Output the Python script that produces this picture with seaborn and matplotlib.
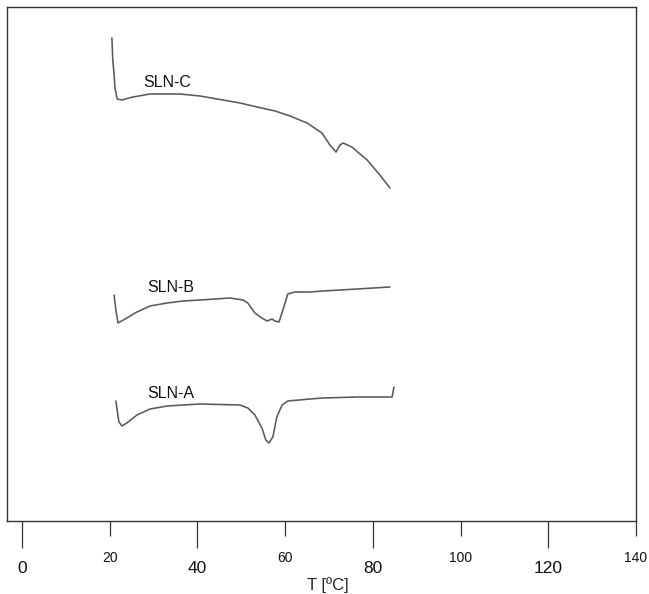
import pandas as pd
import matplotlib
matplotlib.use("Agg")
import matplotlib.pyplot as plt
import seaborn as sns

# DSC thermograms (heat flow, arbitrary units, curves offset vertically)
t_c = [20.5, 20.7, 21.0, 21.2, 21.7, 22.8, 25.3, 29.2, 33.1, 36.0, 40.6, 45.8,
       49.7, 53.6, 57.7, 61.1, 65.0, 68.4, 70.2, 71.6, 72.5, 73.2, 75.2, 78.7,
       81.6, 83.9]
hf_c = [483, 461, 446, 433, 422, 421, 424, 427, 427, 427, 425, 421,
        418, 414, 410, 405, 398, 388, 376, 369, 376, 378, 374, 361,
        346, 333]

t_b = [21.0, 21.4, 21.9, 23.9, 26.2, 29.2, 33.1, 36.7, 40.6, 47.4, 50.4, 51.5,
       53.1, 54.7, 55.9, 57.0, 57.7, 58.6, 59.7, 60.6, 62.2, 65.7, 68.6, 76.4,
       83.9]
hf_b = [226, 211, 198, 203, 209, 215, 218, 220, 221, 223, 221, 218,
        208, 203, 200, 202, 200, 199, 214, 227, 229, 229, 230, 232,
        234]

t_a = [21.4, 21.7, 22.1, 22.8, 23.9, 26.2, 29.2, 33.1, 36.7, 40.6, 49.7, 51.5,
       53.1, 54.7, 55.6, 56.3, 57.2, 58.1, 59.3, 60.6, 65.7, 68.6, 76.4, 84.4,
       84.8]
hf_a = [120, 111, 99, 95, 98, 106, 112, 115, 116, 117, 116, 113,
        106, 93, 81, 78, 84, 104, 116, 120, 122, 123, 124, 124,
        134]

samples = ["SLN-C", "SLN-B", "SLN-A"]
major_ticks = [0, 40, 80, 120]
minor_ticks = [20, 60, 100, 140]
x_label = "T [ºC]"

df = pd.concat(
    [pd.DataFrame({"T": t, "heat_flow": hf, "sample": name})
     for name, t, hf in zip(samples, [t_c, t_b, t_a], [hf_c, hf_b, hf_a])],
    ignore_index=True,
)

sns.set_style("white")
plt.rcParams["font.family"] = ["Liberation Sans", "DejaVu Sans"]

fig = plt.figure(figsize=(6.49, 5.94), dpi=100)
W, H = 649, 594
ax = fig.add_axes([7 / W, (H - 521) / H, (636 - 7) / W, (521 - 7) / H])

line_color = "#5a5a5a"
sns.lineplot(data=df, x="T", y="heat_flow", hue="sample", units="sample",
             estimator=None, sort=False, ax=ax, legend=False,
             palette={s: line_color for s in samples}, linewidth=1.15)

# curve labels
label_pos = {"SLN-C": (33.1, 439), "SLN-B": (34.0, 234), "SLN-A": (34.0, 128)}
for name, (x, y) in label_pos.items():
    ax.text(x, y, name, fontsize=11.5, ha="center", va="center", color="#111111")

ax.set_xlim(-3.42, 140)
ax.set_ylim(0, 514)
ax.set_yticks([])
ax.set_ylabel("")

ax.set_xticks(major_ticks)
ax.set_xticklabels([str(v) for v in major_ticks])
ax.set_xticks(minor_ticks, minor=True)
ax.set_xticklabels([str(v) for v in minor_ticks], minor=True)
ax.tick_params(axis="x", which="major", direction="out", length=19.5, width=0.9,
               color="#333333", labelsize=12.5, pad=9, labelcolor="#111111",
               bottom=True)
ax.tick_params(axis="x", which="minor", direction="out", length=11, width=0.9,
               color="#333333", labelsize=10, pad=10.5, labelcolor="#111111",
               bottom=True)

ax.set_xlabel(x_label, fontsize=12)
ax.xaxis.set_label_coords((328 - 7) / (636 - 7), (521 - 577) / 514)

for side in ["left", "right", "top", "bottom"]:
    ax.spines[side].set_visible(True)
    ax.spines[side].set_color("#333333")
    ax.spines[side].set_linewidth(1.0)

fig.savefig("out.png", dpi=100)
